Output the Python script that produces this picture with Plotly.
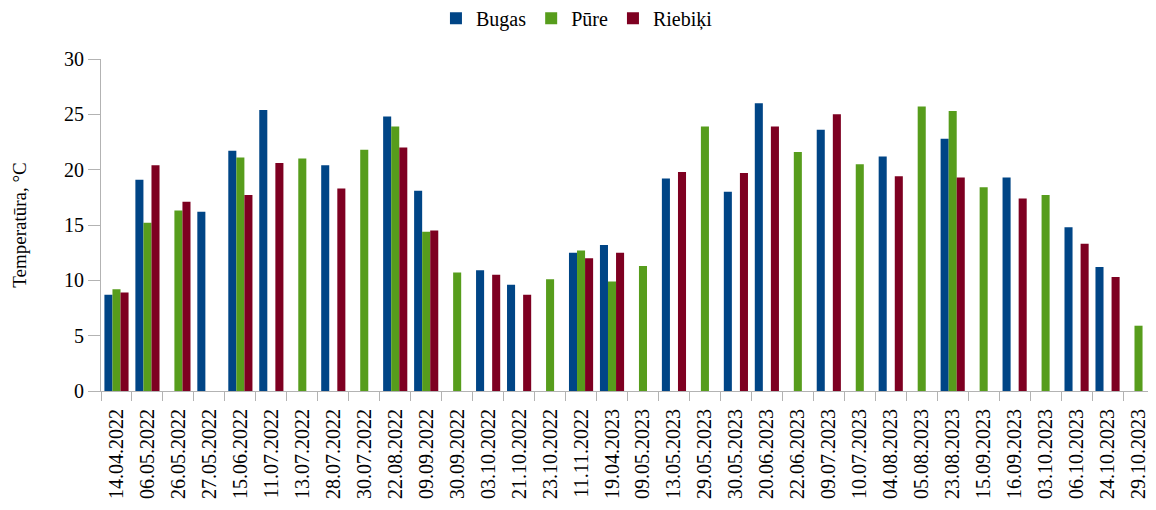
import plotly.graph_objects as go

dates = [
    "14.04.2022", "06.05.2022", "26.05.2022", "27.05.2022", "15.06.2022",
    "11.07.2022", "13.07.2022", "28.07.2022", "30.07.2022", "22.08.2022",
    "09.09.2022", "30.09.2022", "03.10.2022", "21.10.2022", "23.10.2022",
    "11.11.2022", "19.04.2023", "09.05.2023", "13.05.2023", "29.05.2023",
    "30.05.2023", "20.06.2023", "22.06.2023", "09.07.2023", "10.07.2023",
    "04.08.2023", "05.08.2023", "23.08.2023", "15.09.2023", "16.09.2023",
    "03.10.2023", "06.10.2023", "24.10.2023", "29.10.2023",
]

bugas = [
    8.7, 19.1, None, 16.2, 21.7, 25.4, None, 20.4, None, 24.8,
    18.1, None, 10.9, 9.6, None, 12.5, 13.2, None, 19.2, None,
    18.0, 26.0, None, 23.6, None, 21.2, None, 22.8, None, 19.3,
    None, 14.8, 11.2, None,
]
pure = [
    9.2, 15.2, 16.3, None, 21.1, None, 21.0, None, 21.8, 23.9,
    14.4, 10.7, None, None, 10.1, 12.7, 9.9, 11.3, None, 23.9,
    None, None, 21.6, None, 20.5, None, 25.7, 25.3, 18.4, None,
    17.7, None, None, 5.9,
]
riebiki = [
    8.9, 20.4, 17.1, None, 17.7, 20.6, None, 18.3, None, 22.0,
    14.5, None, 10.5, 8.7, None, 12.0, 12.5, None, 19.8, None,
    19.7, 23.9, None, 25.0, None, 19.4, None, 19.3, None, 17.4,
    None, 13.3, 10.3, None,
]

series = [("Bugas", bugas, "#004586"), ("Pūre", pure, "#579d1c"), ("Riebiķi", riebiki, "#7e0021")]

# the page body has an 8px margin, so the figure is a bit smaller than the window
serif = "Liberation Serif, serif"


def txt(size):
    return dict(family=serif, size=size, color="#000000")


fig = go.Figure()
for name, vals, color in series:
    fig.add_trace(go.Bar(x=dates, y=vals, name=name, marker_color=color, marker_line_width=0))

fig.update_layout(
    width=1148, height=502,
    margin=dict(l=93, r=2, t=51, b=119, autoexpand=False),
    plot_bgcolor="white", paper_bgcolor="white",
    font=txt(20),
    barmode="group", bargap=0.22, bargroupgap=0,
    showlegend=True,
    legend=dict(orientation="h", x=0.452, xanchor="center", y=1.123, yanchor="middle",
                font=txt(20), itemwidth=30, traceorder="normal"),
)
fig.update_xaxes(
    type="category", tickangle=-90, tickson="boundaries", automargin=False,
    ticks="outside", ticklen=9, tickcolor="#b3b3b3", ticklabelstandoff=9,
    showline=True, linecolor="#b3b3b3", linewidth=1,
    showgrid=False, tickfont=txt(20),
)
fig.update_yaxes(
    range=[0, 30], dtick=5, ticks="outside", ticklen=12, tickcolor="#b3b3b3",
    showline=True, linecolor="#b3b3b3", linewidth=1, automargin=False,
    showgrid=False, zeroline=False, tickfont=txt(20),
    title=dict(text="Temperatūra, °C", font=txt(19), standoff=32),
)

fig.write_html("out.html")
